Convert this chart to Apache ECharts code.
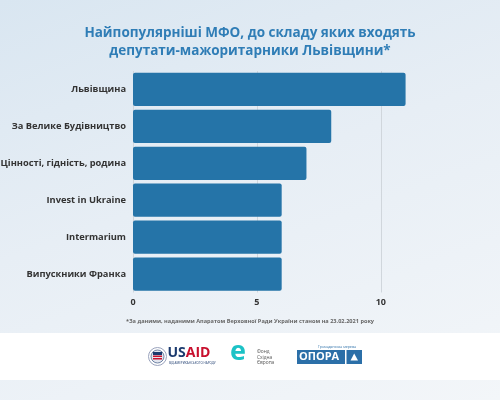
<!DOCTYPE html>
<html>
<head>
<meta charset="utf-8">
<script src="https://cdn.jsdelivr.net/npm/echarts@6/dist/echarts.min.js"></script>
<style>
html,body{margin:0;padding:0;width:500px;height:400px;overflow:hidden;}
body{background:linear-gradient(160deg,#d9e6f1 0%,#e7eef5 45%,#f3f6f9 100%);}
#c{width:500px;height:400px;}
</style>
</head>
<body>
<div id="c"></div>
<script>
const titleLines = ['Найпопулярніші МФО, до складу яких входять', 'депутати-мажоритарники Львівщини*'];
const categories = ['Львівщина', 'За Велике Будівництво', 'Цінності, гідність, родина', 'Invest in Ukraine', 'Intermarium', 'Випускники Франка'];
const values = [11, 8, 7, 6, 6, 6];
const xTicks = [0, 5, 10];
const footnote = '*За даними, наданими Апаратом Верховної Ради України станом на 23.02.2021 року';

const FONT = '"Open Sans", "Noto Sans", sans-serif';
const chart = echarts.init(document.getElementById('c'), null, {renderer: 'canvas'});

const option = {
  backgroundColor: 'transparent',
  animation: false,
  title: {
    text: titleLines.join('\n'),
    left: 'center',
    top: 19,
    textStyle: {color: '#2f7db6', fontSize: 13.5, fontWeight: 'bold', fontFamily: FONT, lineHeight: 18}
  },
  grid: {left: 133, top: 71, width: 14 * 24.78, height: 221.5, containLabel: false, outerBoundsMode: 'none'},
  xAxis: {
    type: 'value', min: 0, max: 14, interval: 5,
    axisLine: {show: false}, axisTick: {show: false},
    splitLine: {show: true, showMaxLine: false, lineStyle: {color: '#d0d6dc', width: 1}},
    axisLabel: {
      color: '#333', fontSize: 9, fontWeight: 'bold', fontFamily: FONT, margin: 5,
      showMaxLabel: false,
      formatter: v => xTicks.includes(v) ? String(v) : ''
    }
  },
  yAxis: {
    type: 'category', data: categories, inverse: true,
    axisLine: {show: false}, axisTick: {show: false},
    axisLabel: {color: '#333', fontSize: 9.3, fontWeight: 'bold', fontFamily: FONT, margin: 7}
  },
  series: [{
    type: 'bar', data: values, barCategoryGap: '10%',
    itemStyle: {color: '#2574a8', borderRadius: 2}
  }],
  graphic: [
    {type: 'rect', left: 0, top: 333, shape: {width: 500, height: 47}, style: {fill: '#ffffff'}, z: -1},
    {type: 'text', left: 'center', top: 318.5, style: {text: footnote, fill: '#666', font: 'bold 5.6px ' + FONT}},
    // USAID
    {type: 'circle', shape: {cx: 157.5, cy: 356.5, r: 9}, style: {fill: '#fff', stroke: '#9aa3bd', lineWidth: 1}},
    {type: 'circle', shape: {cx: 157.5, cy: 356.5, r: 6.5}, style: {fill: '#e3e6ef', stroke: '#1b3a6e', lineWidth: 0.6}},
    {type: 'rect', shape: {x: 153, y: 352, width: 9, height: 3}, style: {fill: '#1b3a6e'}},
    {type: 'rect', shape: {x: 153, y: 355.5, width: 9, height: 1.5}, style: {fill: '#c8102e'}},
    {type: 'rect', shape: {x: 153, y: 358, width: 9, height: 1.5}, style: {fill: '#c8102e'}},
    {type: 'text', x: 167.5, y: 346.5, style: {
      text: '{u|US}{a|AID}',
      rich: {u: {fill: '#1b3a6e', font: 'bold 14px ' + FONT}, a: {fill: '#c8102e', font: 'bold 14px ' + FONT}}
    }},
    {type: 'text', x: 169, y: 361.5, style: {text: 'ВІД АМЕРИКАНСЬКОГО НАРОДУ', fill: '#1b3a6e', font: '3px ' + FONT}},
    // Fond Skhid Europa
    {type: 'text', x: 230, y: 339, style: {text: 'e', fill: '#1cc2c6', font: 'bold 27px ' + FONT}},
    {type: 'text', x: 257, y: 349, style: {text: 'Фонд\nСхідна\nЄвропа', fill: '#555', font: '4.8px ' + FONT, lineHeight: 5.6}},
    // OPORA
    {type: 'text', x: 318, y: 344.5, style: {text: 'Громадянська мережа', fill: '#2b6fa8', font: '3.5px ' + FONT}},
    {type: 'rect', shape: {x: 297, y: 350, width: 48, height: 14}, style: {fill: '#2b6fa8'}},
    {type: 'text', x: 299, y: 351, style: {text: 'ОПОРА', fill: '#fff', font: 'bold 11px ' + FONT}},
    {type: 'rect', shape: {x: 346.5, y: 350, width: 15.5, height: 14}, style: {fill: '#2b6fa8'}},
    {type: 'polygon', shape: {points: [[354.2, 353.5], [350.5, 360.5], [358, 360.5]]}, style: {fill: '#fff'}}
  ]
};
chart.setOption(option);
</script>
</body>
</html>
